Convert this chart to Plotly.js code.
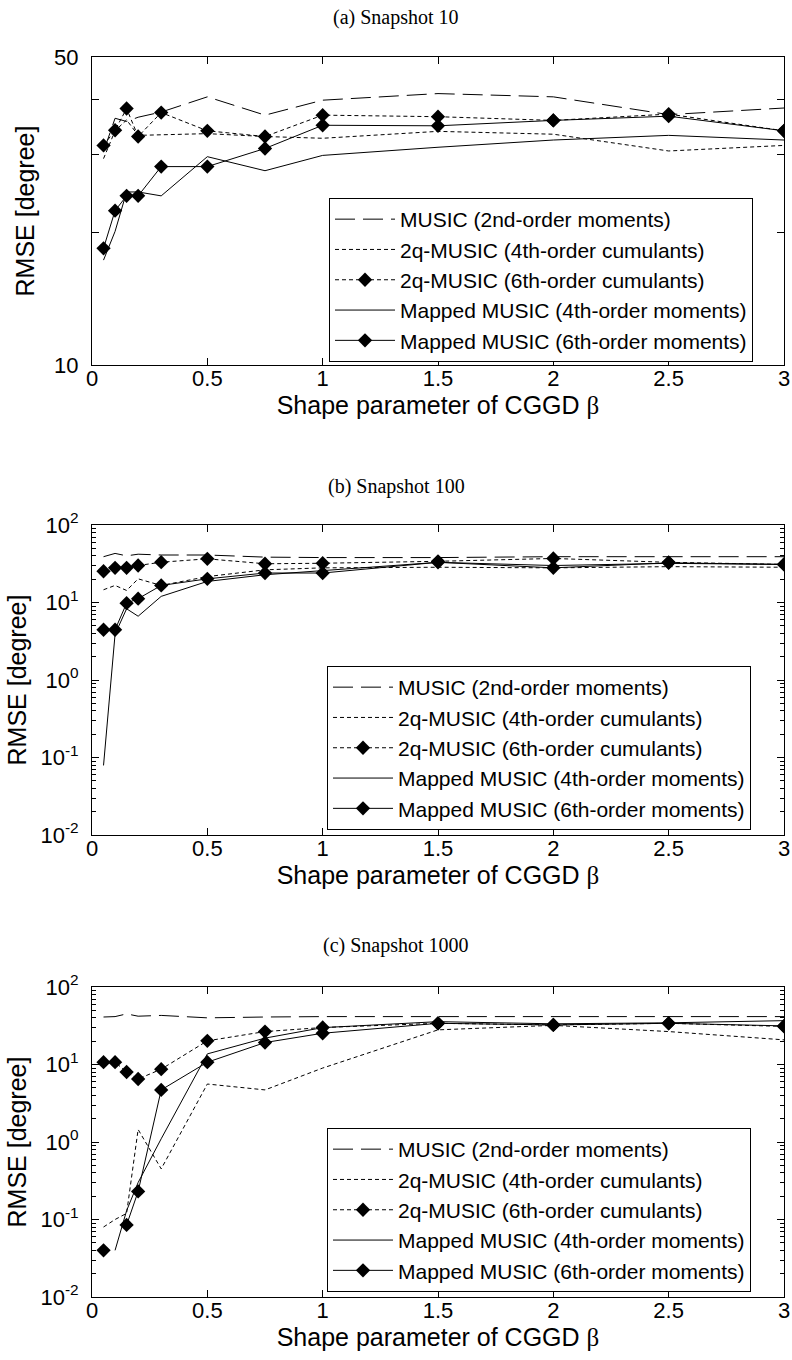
<!DOCTYPE html>
<html><head><meta charset="utf-8">
<script src="https://cdn.plot.ly/plotly-3.0.1.min.js"></script>
<style>html,body{margin:0;padding:0;background:#fff}#chart{width:792px;height:1360px}</style>
</head><body><div id="chart"></div>
<script>
// ---- data ----
const beta = [0.05, 0.1, 0.15, 0.2, 0.3, 0.5, 0.75, 1, 1.5, 2, 2.5, 3];
const seriesNames = [
  "MUSIC (2nd-order moments)",
  "2q-MUSIC (4th-order cumulants)",
  "2q-MUSIC (6th-order cumulants)",
  "Mapped MUSIC (4th-order moments)",
  "Mapped MUSIC (6th-order moments)"
];
const panelTitles = ["(a) Snapshot 10", "(b) Snapshot 100", "(c) Snapshot 1000"];

// (a) Snapshot 10
const a_music = [30.5, 36.3, 35.7, 36.5, 37.5, 40.6, 36.9, 39.9, 41.3, 40.6, 37.0, 38.3];
const a_q4    = [29.4, 34.0, 36.0, 33.2, 33.3, 33.5, 33.0, 32.7, 33.9, 33.4, 30.6, 31.5];
const a_q6    = [31.5, 34.1, 38.2, 33.0, 37.4, 34.0, 33.0, 36.9, 36.6, 35.9, 37.1, 34.0];
const a_m4    = [17.3, 20.1, 24.7, 24.7, 24.2, 29.7, 27.6, 29.9, 31.2, 32.4, 33.2, 32.4];
const a_m6    = [18.4, 22.4, 24.2, 24.2, 28.2, 28.2, 31.0, 35.0, 34.9, 35.9, 36.7, 34.0];

// (b) Snapshot 100
const b_music = [39.0, 43.0, 40.0, 42.0, 41.0, 41.0, 38.5, 38.0, 38.0, 39.0, 39.0, 39.0];
const b_q4    = [14.6, 16.6, 14.3, 20.2, 16.6, 21.6, 26.4, 28.0, 28.5, 28.0, 29.0, 28.5];
const b_q6    = [25.3, 28.0, 28.0, 30.0, 33.1, 36.6, 31.6, 32.1, 34.0, 37.0, 33.0, 31.0];
const b_m4    = [0.079, 3.9, 8.3, 6.65, 12.0, 18.7, 22.8, 25.9, 33.0, 30.0, 32.0, 31.0];
const b_m6    = [4.45, 4.45, 9.8, 11.2, 16.6, 20.2, 24.0, 24.0, 33.0, 28.0, 32.5, 31.0];

// (c) Snapshot 1000  (null = zero error, not drawable on the log axis)
const c_music = [41.0, 41.5, 45.0, 42.0, 43.0, 40.0, 41.0, 41.5, 41.5, 41.5, 41.5, 41.5];
const c_q4    = [0.08, 0.1, 0.12, 1.45, 0.45, 5.6, 4.7, 9.0, 28.0, 32.0, 26.6, 20.8];
const c_q6    = [10.7, 10.7, 8.0, 6.5, 8.7, 20.2, 26.6, 30.0, 34.0, 32.4, 34.0, 31.0];
const c_m4    = [null, 0.04, 0.13, 0.3, 1.1, 13.7, 21.9, 29.9, 35.7, 33.5, 34.5, 36.8];
const c_m6    = [0.04, null, 0.085, 0.23, 4.7, 10.7, 19.2, 25.3, 34.0, 32.4, 34.0, 31.5];

// ---- styles ----
const styles = [
  {dash: "20px,8px", marker: false},
  {dash: "4px,3px", marker: false},
  {dash: "4px,3px", marker: true},
  {dash: "solid", marker: false},
  {dash: "solid", marker: true}
];

const panels = [
  {data: [a_music, a_q4, a_q6, a_m4, a_m6], xa: "x", ya: "y", lg: "legend"},
  {data: [b_music, b_q4, b_q6, b_m4, b_m6], xa: "x2", ya: "y2", lg: "legend2"},
  {data: [c_music, c_q4, c_q6, c_m4, c_m6], xa: "x3", ya: "y3", lg: "legend3"}
];

const traces = [];
panels.forEach(p => {
  p.data.forEach((vals, i) => {
    const st = styles[i];
    traces.push({
      type: "scatter",
      x: beta, y: vals,
      xaxis: p.xa, yaxis: p.ya, legend: p.lg,
      name: seriesNames[i],
      mode: st.marker ? "lines+markers" : "lines",
      line: {color: "#000", width: 1, dash: st.dash},
      marker: {symbol: "diamond", size: 11, color: "#000"},
      connectgaps: false
    });
  });
});

// ---- layout ----
const FONT = "Liberation Sans, Arial, sans-serif";
const W = 792, H = 1360, ML = 92, MR = 8, MT = 57, MB = 63;
const plotH = H - MT - MB;
const py = px => 1 - (px - MT) / plotH;
const pxx = px => (px - ML) / (W - ML - MR);

const logMinor = [];
[0.01, 0.1, 1, 10].forEach(d => { for (let k = 2; k <= 9; k++) logMinor.push(d * k); });

const xTitle = "Shape parameter of CGGD <span style='font-family:Liberation Serif'>β</span>";

function baseAxis() {
  return {
    ticks: "inside", ticklen: 7, tickcolor: "#000", mirror: "ticks",
    showline: true, linecolor: "#000", linewidth: 1,
    showgrid: false, zeroline: false,
    tickfont: {family: FONT, size: 22, color: "#000"}
  };
}
function xAxis(anchor) {
  return Object.assign(baseAxis(), {
    anchor: anchor, range: [0, 3], dtick: 0.5, tick0: 0,
    ticklabelstandoff: -6,
    title: {text: xTitle, font: {family: FONT, size: 25, color: "#000"}, standoff: 4}
  });
}
function yLog(anchor, top, bottom) {
  return Object.assign(baseAxis(), {
    anchor: anchor, type: "log", domain: [py(bottom), py(top)], range: [-2, 2],
    tickvals: [0.01, 0.1, 1, 10, 100],
    ticktext: ["10<sup>-2</sup>", "10<sup>-1</sup>", "10<sup>0</sup>", "10<sup>1</sup>", "10<sup>2</sup>"],
    minor: {tickvals: logMinor, ticks: "inside", ticklen: 4, tickcolor: "#000", showgrid: false},
    ticklabelstandoff: 8,
    title: {text: "RMSE [degree]", font: {family: FONT, size: 25, color: "#000"}, standoff: 6}
  });
}

const legendBase = (x, y) => ({
  x: x, y: y, xanchor: "left", yanchor: "top",
  bordercolor: "#000", borderwidth: 1, bgcolor: "#fff",
  font: {family: FONT, size: 21, color: "#000"},
  itemwidth: 60, tracegroupgap: 0, traceorder: "normal"
});

const layout = {
  width: W, height: H,
  margin: {l: ML, r: MR, t: MT, b: MB},
  paper_bgcolor: "#fff", plot_bgcolor: "#fff",
  showlegend: true,
  xaxis: xAxis("y"), xaxis2: xAxis("y2"), xaxis3: xAxis("y3"),
  yaxis: Object.assign(baseAxis(), {
    anchor: "x", type: "log", domain: [py(365), 1], range: [1, Math.log10(50)],
    tickvals: [10, 50], ticktext: ["10", "50"],
    minor: {tickvals: [20, 30, 40], ticks: "inside", ticklen: 7, tickcolor: "#000", showgrid: false},
    ticklabelstandoff: 8,
    title: {text: "RMSE [degree]", font: {family: FONT, size: 25, color: "#000"}, standoff: 12}
  }),
  yaxis2: yLog("x2", 525, 835),
  yaxis3: yLog("x3", 987, 1297),
  legend: legendBase(pxx(329), py(198)),
  legend2: legendBase(pxx(327), py(666)),
  legend3: legendBase(pxx(327), py(1128)),
  annotations: [
    {text: panelTitles[0], y: py(17)},
    {text: panelTitles[1], y: py(486)},
    {text: panelTitles[2], y: py(945)}
  ].map(a => ({
    text: a.text, xref: "paper", yref: "paper", x: pxx(396), y: a.y,
    xanchor: "center", yanchor: "middle", showarrow: false,
    font: {family: "Liberation Serif, Times New Roman, serif", size: 20, color: "#000"}
  }))
};

Plotly.newPlot("chart", traces, layout, {staticPlot: true, displayModeBar: false});
</script></body></html>
